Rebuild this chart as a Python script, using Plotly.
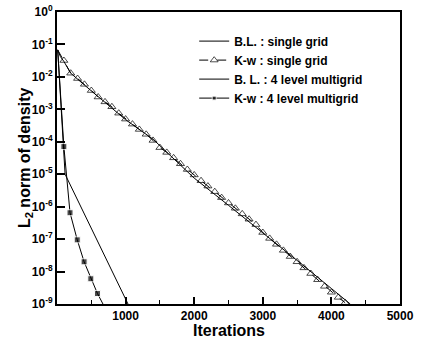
import plotly.graph_objects as go

# ---- data ----
bl_single_x = [10, 50, 100, 200, 400, 700, 1000, 1400, 1500, 2000, 2500, 3000, 3500, 4000, 4275]
bl_single_y = [6.8e-2, 4.2e-2, 3.0e-2, 1.3e-2, 5.6e-3, 1.6e-3, 4.8e-4, 1.2e-4, 7.6e-5,
               7.6e-6, 1.1e-6, 1.6e-7, 2.2e-8, 3.0e-9, 1.0e-9]

kw_single_x = [10, 100, 200, 300, 400, 500, 600, 700, 800, 900, 1000, 1100, 1200, 1300,
               1400, 1500, 1600, 1700, 1800, 1900, 2000, 2100, 2200, 2300, 2400, 2500,
               2600, 2700, 2800, 2900, 3000, 3100, 3200, 3300, 3400, 3500, 3600, 3700,
               3800, 3900, 4000, 4100, 4200]
kw_single_y = [6.8e-2, 3.2e-2, 1.3e-2, 8.9e-3, 5.9e-3, 3.8e-3, 2.4e-3, 1.7e-3, 1.2e-3,
               7.6e-4, 5.0e-4, 3.5e-4, 2.4e-4, 1.7e-4, 1.1e-4, 6.6e-5, 4.7e-5, 3.2e-5,
               2.1e-5, 1.4e-5, 9.5e-6, 6.3e-6, 4.3e-6, 2.9e-6, 1.9e-6, 1.3e-6, 8.9e-7,
               6.0e-7, 4.1e-7, 2.8e-7, 1.6e-7, 1.05e-7, 6.9e-8, 4.5e-8, 2.9e-8, 2.0e-8,
               1.3e-8, 8.7e-9, 5.6e-9, 3.5e-9, 2.3e-9, 1.6e-9, 1.1e-9]

bl_multi_x = [10, 65, 100, 118, 1035]
bl_multi_y = [6.8e-2, 1.0e-3, 7.1e-5, 1.0e-5, 1.0e-9]

kw_multi_x = [10, 65, 100, 190, 295, 395, 493, 590, 670]
kw_multi_y = [6.8e-2, 1.0e-3, 7.1e-5, 6.5e-7, 9.5e-8, 2.0e-8, 6.0e-9, 2.1e-9, 1.0e-9]
kw_multi_marker = [False, False, True, True, True, True, True, True, False]

x_ticks = [1000, 2000, 3000, 4000, 5000]
y_exponents = [0, -1, -2, -3, -4, -5, -6, -7, -8, -9]
y_tickvals = [10.0 ** e for e in y_exponents]
y_ticktext = [f"10<sup>{e}</sup>" for e in y_exponents]

series_names = ["B.L. : single grid", "K-w : single grid",
                "B. L. : 4 level multigrid", "K-w : 4 level multigrid"]

FONT = "Liberation Sans, Arial, sans-serif"

fig = go.Figure()
fig.add_trace(go.Scatter(x=bl_single_x, y=bl_single_y, mode="lines", name=series_names[0],
                         line=dict(color="black", width=1)))
kw_sizes = [0] + [7] * (len(kw_single_x) - 1)
fig.add_trace(go.Scatter(x=kw_single_x, y=kw_single_y, mode="lines+markers", name=series_names[1],
                         line=dict(color="black", width=1, dash="dash"),
                         marker=dict(symbol="triangle-up-open", size=kw_sizes, color="black",
                                     line=dict(width=1, color="black"))))
fig.add_trace(go.Scatter(x=bl_multi_x, y=bl_multi_y, mode="lines", name=series_names[2],
                         line=dict(color="black", width=1)))
fig.add_trace(go.Scatter(x=kw_multi_x, y=kw_multi_y, mode="lines+markers", name=series_names[3],
                         line=dict(color="black", width=1),
                         marker=dict(symbol="square", size=[6 if m else 0 for m in kw_multi_marker],
                                     color="black")))

fig.update_layout(
    width=422, height=340,
    margin=dict(l=57, r=22, t=12, b=36, autoexpand=False),
    paper_bgcolor="white", plot_bgcolor="white",
    font=dict(family=FONT, color="black"),
    showlegend=True,
    legend=dict(x=0.40, y=0.95, xanchor="left", yanchor="top",
                bgcolor="rgba(0,0,0,0)", borderwidth=0,
                font=dict(family=FONT, size=12, weight="bold", color="black"),
                tracegroupgap=0, itemwidth=30),
    xaxis=dict(range=[0, 5000], showgrid=False, zeroline=False, automargin=False,
               showline=True, linecolor="black", linewidth=2, mirror=True,
               ticks="inside", ticklen=7, tickwidth=1.5, tickcolor="black",
               tickvals=x_ticks, ticktext=[str(v) for v in x_ticks],
               tickfont=dict(family=FONT, size=12, weight="bold", color="black"),
               minor=dict(dtick=500, ticks="inside", ticklen=4, tickwidth=1, tickcolor="black")),
    yaxis=dict(type="log", range=[-9, 0], showgrid=False, zeroline=False, automargin=False,
               showline=True, linecolor="black", linewidth=2, mirror=True,
               ticks="inside", ticklen=8, tickwidth=1.5, tickcolor="black",
               tickvals=y_tickvals, ticktext=y_ticktext,
               tickfont=dict(family=FONT, size=12, weight="bold", color="black")),
    annotations=[
        dict(text="Iterations", xref="paper", yref="paper", x=0.5, y=-0.09,
             xanchor="center", yanchor="middle", showarrow=False,
             font=dict(family=FONT, size=16, weight="bold", color="black")),
        dict(text="L<sub>2</sub> norm of density", xref="paper", yref="paper",
             x=-0.093, y=0.5, xanchor="center", yanchor="middle", textangle=-90,
             showarrow=False, font=dict(family=FONT, size=16, weight="bold", color="black")),
    ],
)

fig.write_html("out.html", config={"displayModeBar": False},
               post_script="document.body.style.margin='0';document.body.style.overflow='hidden';")
